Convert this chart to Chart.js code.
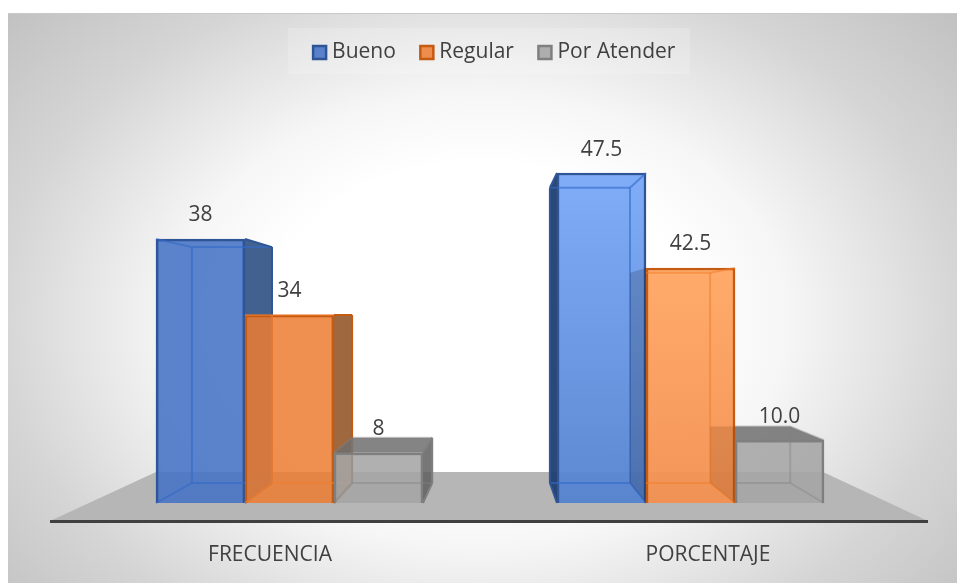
<!DOCTYPE html>
<html><head><meta charset="utf-8">
<script src="https://cdn.jsdelivr.net/npm/chart.js@4"></script>
<style>html,body{margin:0;padding:0;background:#fff}canvas{display:block}</style>
</head><body><canvas id="c" width="957" height="583"></canvas>
<script>
const categories = ["FRECUENCIA", "PORCENTAJE"];
const bueno = [38, 47.5];
const regular = [34, 42.5];
const porAtender = [8, 10];
const seriesNames = ["Bueno", "Regular", "Por Atender"];
const labelDecimals = [0, 1];

const FONT = '"Open Sans", sans-serif';
const TEXT = '#404040';
const BASE_Y = 503, AXIS_Y = 521, AXIS_L = 51, AXIS_R = 927;
const GROUP_X = [289.5, 690.5];
const PX_PER_UNIT = [6.947, 5.53, 6.28];
const DEPTH = 0.9, VX = [515, 486], VY = [320, 316, 303], VY_BASE = 303;

const front = [
  ['rgba(68,114,196,.87)', ['rgba(124,170,248,.97)', 'rgba(84,130,208,.95)']],
  ['rgba(237,125,49,.85)', ['rgba(255,168,102,.97)', 'rgba(243,144,80,.95)']],
  ['rgba(165,165,165,.88)', ['rgba(165,165,165,.88)', 'rgba(165,165,165,.88)']]
];
const outer = ['#2f5597', '#c55a11', '#7f7f7f'];
const inner = ['rgba(50,105,200,.6)', 'rgba(240,125,45,.55)', 'rgba(130,130,130,.4)'];
const sideFill = [
  ['rgba(52,85,135,.93)', 'rgba(32,62,112,.95)'],
  ['rgba(150,88,42,.9)', 'rgba(0,0,0,.17)'],
  ['rgba(95,95,95,.85)', 'rgba(110,45,0,.18)']
];
const topFill = ['rgba(60,100,170,.6)', 'rgba(237,125,49,.8)', 'rgba(110,110,110,.85)'];

function poly(ctx, pts, fill, stroke, lw) {
  ctx.beginPath();
  pts.forEach((p, i) => i ? ctx.lineTo(p[0], p[1]) : ctx.moveTo(p[0], p[1]));
  ctx.closePath();
  if (fill) { ctx.fillStyle = fill; ctx.fill(); }
  if (stroke) { ctx.strokeStyle = stroke; ctx.lineWidth = lw || 2; ctx.lineJoin = 'round'; ctx.stroke(); }
}
function seg(ctx, a, b, c, lw) {
  ctx.beginPath(); ctx.moveTo(a[0], a[1]); ctx.lineTo(b[0], b[1]);
  ctx.strokeStyle = c; ctx.lineWidth = lw || 2; ctx.stroke();
}
function corners(bar, s, g) {
  const fL = bar.x - bar.width / 2, fR = bar.x + bar.width / 2, fT = bar.y, fB = bar.base;
  const bx = v => DEPTH * v + (1 - DEPTH) * VX[g];
  return { fL, fR, fT, fB, bL: bx(fL), bR: bx(fR),
    bT: DEPTH * fT + (1 - DEPTH) * VY[s], bB: DEPTH * fB + (1 - DEPTH) * VY_BASE };
}
const isSoft = (s, g) => s > 0 && g === 1;
function behind(ctx, bar, s, g) {
  const k = corners(bar, s, g), soft = isSoft(s, g);
  const upper = soft ? Math.min(k.fT, k.bT) : k.fT;
  if (k.bR > k.fR) poly(ctx, [[k.fR,k.fT],[k.bR,k.bT],[k.bR,k.bB],[k.fR,k.fB]], sideFill[s][g]);
  if (k.bL < k.fL) poly(ctx, [[k.fL,upper],[k.bL,k.bT],[k.bL,k.bB],[k.fL,k.fB]], sideFill[s][g]);
  if (k.bT < k.fT) poly(ctx, soft ? [[k.fL,k.fT],[k.fL,k.bT],[k.bR,k.bT],[k.fR,k.fT]]
                                  : [[k.fL,k.fT],[k.bL,k.bT],[k.bR,k.bT],[k.fR,k.fT]], topFill[s]);
}
function edges(ctx, bar, s, g) {
  const k = corners(bar, s, g), c = inner[s], o = outer[s], soft = isSoft(s, g);
  const startX = soft ? k.fL : k.bL;
  seg(ctx, [startX,k.bT], [k.bR,k.bT], c);
  seg(ctx, [startX,k.bB], [k.bR,k.bB], c);
  seg(ctx, [k.bR,k.bT], [k.bR,k.bB], k.bR > k.fR ? o : c);
  seg(ctx, [k.fR,k.fT], [k.bR,k.bT], k.bR > k.fR ? o : c);
  seg(ctx, [k.fR,k.fB], [k.bR,k.bB], k.bR > k.fR ? o : c);
  if (!soft) {
    seg(ctx, [k.bL,k.bT], [k.bL,k.bB], k.bL < k.fL ? o : c);
    seg(ctx, [k.fL,k.fT], [k.bL,k.bT], k.bL < k.fL ? o : c);
    seg(ctx, [k.fL,k.fB], [k.bL,k.bB], k.bL < k.fL ? o : c);
  }
}

const scene = {
  id: 'scene',
  afterLayout(chart) {
    const top = chart.chartArea.top;
    ['y0', 'y1', 'y2'].forEach((id, i) => {
      const sc = chart.scales[id];
      sc.min = (BASE_Y - AXIS_Y) / PX_PER_UNIT[i];
      sc.max = (BASE_Y - top) / PX_PER_UNIT[i];
      sc.configure();
    });
    chart.legend.left += 15;
  },
  beforeDraw(chart) {
    const ctx = chart.ctx;
    ctx.save();
    ctx.fillStyle = '#fff';
    ctx.fillRect(0, 0, 957, 583);
    ctx.beginPath(); ctx.rect(8, 13, 949, 570); ctx.clip();
    ctx.translate(480, 320); ctx.scale(1, 1 / 1.35);
    const g = ctx.createRadialGradient(0, 0, 0, 0, 0, 640);
    g.addColorStop(0, '#fff'); g.addColorStop(.33, '#fff'); g.addColorStop(.48, '#f6f6f6');
    g.addColorStop(.63, '#e4e4e4'); g.addColorStop(.75, '#d5d5d5'); g.addColorStop(1, '#c0c0c0');
    ctx.fillStyle = g;
    ctx.fillRect(-600, -600, 1200, 1200);
    ctx.restore();
    ctx.save();
    ctx.fillStyle = '#c9c9c9'; ctx.fillRect(8, 13, 949, 1);
    ctx.fillStyle = 'rgba(255,255,255,.18)'; ctx.fillRect(288, 28, 402, 46);
    poly(ctx, [[50,AXIS_Y],[928,AXIS_Y],[823,472],[156,472]], '#b6b6b6');
    ctx.restore();
  },
  beforeDatasetsDraw(chart) {
    const ctx = chart.ctx;
    for (let s = 0; s < 3; s++) {
      const meta = chart.getDatasetMeta(s);
      ctx.save();
      meta.data.forEach((bar, g) => behind(ctx, bar, s, g));
      meta.controller.draw();
      meta.data.forEach((bar, g) => edges(ctx, bar, s, g));
      ctx.restore();
    }
    ctx.save();
    ctx.font = '21px ' + FONT; ctx.fillStyle = TEXT;
    ctx.textAlign = 'center'; ctx.textBaseline = 'middle';
    for (let s = 0; s < 3; s++) {
      const meta = chart.getDatasetMeta(s), values = [bueno, regular, porAtender][s];
      meta.data.forEach((bar, g) => ctx.fillText(values[g].toFixed(labelDecimals[g]), bar.x, bar.y - 23.5));
    }
    ctx.restore();
    return false;
  }
};

function frontColor(s) {
  return c => {
    if (c.dataIndex === 0) return front[s][0];
    const sc = c.chart.scales['y' + s], st = front[s][1];
    if (!sc || c.parsed === undefined || !c.chart.chartArea) return st[0];
    const g = c.chart.ctx.createLinearGradient(0, sc.getPixelForValue(c.parsed.y), 0, sc.getPixelForValue(0));
    g.addColorStop(0, st[0]); g.addColorStop(1, st[1]);
    return g;
  };
}
const series = [bueno, regular, porAtender];
const step = GROUP_X[1] - GROUP_X[0];
const xMin = (AXIS_L - GROUP_X[0]) / step, xMax = (AXIS_R - GROUP_X[0]) / step;
const hiddenY = { type: 'linear', display: false, bounds: 'data', min: -3, max: 60 };

new Chart(document.getElementById('c'), {
  type: 'bar',
  data: {
    labels: categories,
    datasets: series.map((vals, s) => ({
      label: seriesNames[s],
      data: vals.map((v, g) => ({ x: g, y: v })),
      xAxisID: 'xb', yAxisID: 'y' + s,
      backgroundColor: frontColor(s),
      borderColor: outer[s], borderWidth: 2.5,
      barThickness: 89
    }))
  },
  options: {
    responsive: false, animation: false, devicePixelRatio: 1,
    layout: { padding: { left: AXIS_L, right: 957 - AXIS_R, top: 13, bottom: 0 } },
    plugins: {
      tooltip: { enabled: false },
      legend: {
        position: 'top', align: 'center',
        labels: { usePointStyle: true, pointStyle: 'rect', boxWidth: 4, boxHeight: 13, padding: 29,
          color: TEXT, font: { family: FONT, size: 21 } }
      }
    },
    scales: {
      x: { type: 'category', position: 'bottom', offset: true, grid: { display: false, drawTicks: false },
        border: { display: true, color: '#404040', width: 3 },
        ticks: { color: TEXT, padding: 21, maxRotation: 0, font: { family: FONT, size: 21 } },
        afterFit(s) { s.height = 583 - AXIS_Y; } },
      xb: { type: 'linear', display: false, offset: false, bounds: 'data', min: xMin, max: xMax, grid: { offset: false } },
      y0: { ...hiddenY }, y1: { ...hiddenY }, y2: { ...hiddenY }
    }
  },
  plugins: [scene]
});
</script></body></html>
